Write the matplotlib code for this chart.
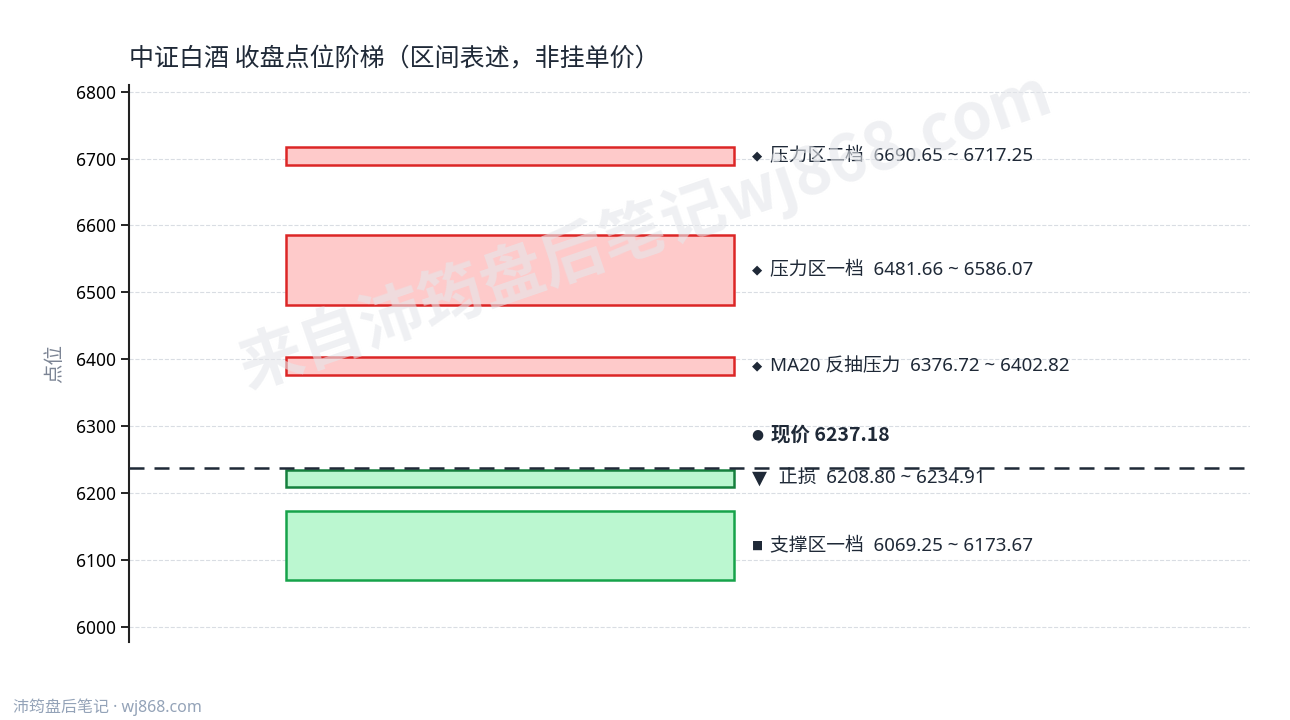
import matplotlib.pyplot as plt
from matplotlib.patches import Rectangle

plt.rcParams['font.family'] = ['Noto Sans', 'Noto Sans CJK SC', 'DejaVu Sans']

# 区间数据
zone_names = ['压力区二档', '压力区一档', 'MA20 反抽压力', '止损', '支撑区一档']
zone_low = [6690.65, 6481.66, 6376.72, 6208.80, 6069.25]
zone_high = [6717.25, 6586.07, 6402.82, 6234.91, 6173.67]
zone_kind = ['压力', '压力', '压力', '止损', '支撑']
current_price = 6237.18

y_ticks = [6000, 6100, 6200, 6300, 6400, 6500, 6600, 6700, 6800]

styles = {
    '压力': dict(face='#fecaca', edge='#dc2626', mark='◆', msize=9.5),
    '止损': dict(face='#bbf7d0', edge='#15803d', mark='▼', msize=14),
    '支撑': dict(face='#bbf7d0', edge='#16a34a', mark='■', msize=8.5),
}

fig = plt.figure(figsize=(12.9, 7.2), dpi=100)
ax = fig.add_axes([0.1, 0.109, 0.869, 0.773])

text_color = '#1f2937'
mark_font = ['DejaVu Sans']
cjk_font = ['Noto Sans CJK SC', 'DejaVu Sans']

for name, lo, hi, kind in zip(zone_names, zone_low, zone_high, zone_kind):
    st = styles[kind]
    ax.add_patch(Rectangle((0.14, lo), 0.40, hi - lo,
                           facecolor=st['face'], edgecolor=st['edge'],
                           linewidth=1.8, zorder=3))
    mid = (lo + hi) / 2
    ax.text(0.5555, mid, st['mark'], fontsize=st['msize'], family=mark_font,
            color=text_color, va='center', ha='left', zorder=5)
    x_txt = 0.5795 if kind == '止损' else 0.5718
    ax.text(x_txt, mid, f'{name}  {lo:.2f} ~ {hi:.2f}',
            fontsize=13.5, color=text_color, va='center', ha='left', zorder=5)

# 现价虚线
ax.axhline(current_price, color='#1f2937', linestyle=(0, (6, 4)),
           linewidth=1.8, zorder=4)
ax.text(0.5555, current_price + 50, '●', fontsize=10, family=mark_font,
        color=text_color, va='center', ha='left', zorder=5)
ax.text(0.5725, current_price + 50, '现价 6237.18', fontsize=14, family=cjk_font,
        fontweight='bold', color=text_color, va='center', ha='left', zorder=5)

ax.set_xlim(0, 1)
ax.set_ylim(5978, 6810)
ax.set_yticks(y_ticks)
ax.tick_params(axis='y', labelsize=12.5, length=6, width=1.2, colors='black')
ax.set_xticks([])
ax.grid(axis='y', linestyle='--', color='#d9dde3', linewidth=0.8, zorder=0)
ax.set_axisbelow(True)

for side in ['top', 'right', 'bottom']:
    ax.spines[side].set_visible(False)
ax.spines['left'].set_linewidth(1.5)
ax.spines['left'].set_color('#222222')

ax.set_ylabel('点位', fontsize=14, color='#7b8494', labelpad=8)
ax.set_title('中证白酒 收盘点位阶梯（区间表述，非挂单价）', loc='left',
             fontsize=18, family=cjk_font, color=text_color, pad=13)

# 水印
fig.text(0.5, 0.68, '来自沛筠盘后笔记wj868.com', fontsize=46, family=cjk_font,
         fontweight='bold', color='#e5e7eb', alpha=0.6, rotation=19,
         ha='center', va='center', zorder=0)

# 页脚
fig.text(0.01, 0.018, '沛筠盘后笔记 · wj868.com', fontsize=11.5,
         color='#94a3b8', ha='left', va='center')

plt.savefig('out.png', dpi=100)
